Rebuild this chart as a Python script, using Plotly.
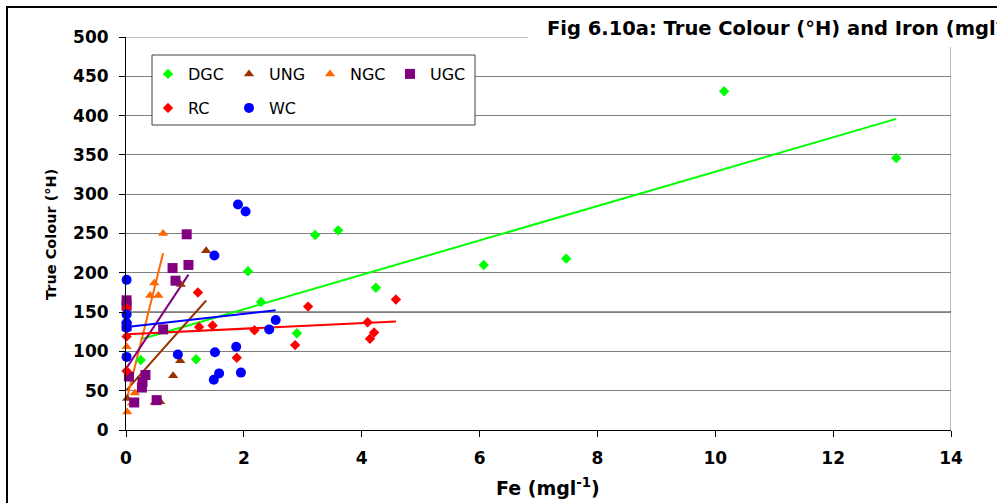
import numpy as np
import plotly.graph_objects as go

# Iron (Fe, mg/l) and true colour (degrees Hazen) per catchment group
dgc_fe = [0.25, 1.19, 2.07, 2.29, 2.90, 3.21, 3.60, 4.24, 6.07, 7.47, 10.15, 13.07]
dgc_col = [89, 90, 202, 163, 123, 248, 254, 181, 210, 218, 431, 346]

ung_fe = [0.01, 0.02, 0.49, 0.58, 0.80, 0.92, 0.93, 1.36]
ung_col = [150, 40, 35, 36, 69, 88, 185, 228]

ngc_fe = [0.01, 0.02, 0.10, 0.15, 0.41, 0.48, 0.55, 0.63]
ngc_col = [106, 23, 34, 47, 171, 187, 171, 250]

ugc_fe = [0.01, 0.01, 0.01, 0.05, 0.14, 0.27, 0.28, 0.33, 0.52, 0.63, 0.79, 0.84, 1.03, 1.06]
ugc_col = [165, 158, 132, 68, 35, 54, 61, 70, 38, 128, 206, 190, 249, 210]

rc_fe = [0.01, 0.01, 0.01, 1.22, 1.24, 1.47, 1.88, 2.18, 2.87, 3.09, 4.10, 4.14, 4.21, 4.58]
rc_col = [155, 119, 75, 175, 131, 133, 92, 127, 108, 157, 137, 116, 124, 166]

wc_fe = [0.01, 0.01, 0.01, 0.01, 0.01, 0.88, 1.49, 1.50, 1.51, 1.58, 1.87, 1.90, 1.95, 2.03, 2.43, 2.54]
wc_col = [191, 147, 136, 130, 93, 96, 64, 222, 99, 72, 106, 287, 73, 278, 128, 140]

series = [
    ("DGC", dgc_fe, dgc_col, "#00FF00", "diamond", 8),
    ("UNG", ung_fe, ung_col, "#993300", "triangle-up", 9),
    ("NGC", ngc_fe, ngc_col, "#FF6600", "triangle-up", 9),
    ("UGC", ugc_fe, ugc_col, "#800080", "square", 10),
    ("RC", rc_fe, rc_col, "#FF0000", "diamond", 8),
    ("WC", wc_fe, wc_col, "#0000FF", "circle", 10),
]

x_ticks = list(range(0, 15, 2))
y_ticks = list(range(0, 501, 50))

# plot area in pixels (997 x 503 page)
W, H = 997, 503
L, R, T, B = 126, 951, 37, 430

FONT = "DejaVu Sans, Verdana, sans-serif"


def px(x):
    return (x - L) / (R - L)


def py(y):
    return (B - y) / (B - T)


fig = go.Figure()

# least-squares trend line for each group, over its own Fe range
for name, fe, col, color, sym, size in series:
    fe_a = np.array(fe, dtype=float)
    col_a = np.array(col, dtype=float)
    slope, icpt = np.polyfit(fe_a, col_a, 1)
    xs = np.array([fe_a.min(), fe_a.max()])
    fig.add_trace(go.Scatter(
        x=xs, y=icpt + slope * xs, mode="lines",
        line=dict(color=color, width=2), showlegend=False,
        hoverinfo="skip", cliponaxis=False,
    ))

legend_pos = {
    "DGC": (168, 74), "UNG": (249, 74), "NGC": (330, 74), "UGC": (410, 74),
    "RC": (168, 108), "WC": (249, 108),
}

legend_layouts = {}
for i, (name, fe, col, color, sym, size) in enumerate(series):
    lname = "legend" if i == 0 else f"legend{i + 1}"
    fig.add_trace(go.Scatter(
        x=fe, y=col, mode="markers", name=name,
        marker=dict(color=color, symbol=sym, size=size, line=dict(width=0)),
        cliponaxis=False, legend=lname,
    ))
    lx, ly = legend_pos[name]
    legend_layouts[lname] = dict(
        x=px(lx - 20), y=py(ly), xanchor="left", yanchor="middle",
        bgcolor="rgba(0,0,0,0)", borderwidth=0,
        font=dict(family=FONT, size=16, color="black"),
        itemsizing="trace", tracegroupgap=0,
    )

shapes = [
    # outer chart frame
    dict(type="rect", xref="paper", yref="paper",
         x0=px(7), x1=px(1040), y0=py(540), y1=py(7),
         line=dict(color="black", width=2), fillcolor="rgba(0,0,0,0)", layer="above"),
    # right border of plot area
    dict(type="line", xref="x", yref="y", x0=14, x1=14, y0=0, y1=500,
         line=dict(color="#808080", width=1), layer="below"),
    # top border of plot area
    dict(type="line", xref="x", yref="y", x0=0, x1=14, y0=500, y1=500,
         line=dict(color="#808080", width=1), layer="below"),
    # darker gridline
    dict(type="line", xref="x", yref="y", x0=0, x1=14, y0=150, y1=150,
         line=dict(color="black", width=1), layer="below"),
    # legend box
    dict(type="rect", xref="paper", yref="paper",
         x0=px(152), x1=px(475), y0=py(125), y1=py(55),
         line=dict(color="#404040", width=1), fillcolor="white", layer="above"),
    # title box
    dict(type="rect", xref="paper", yref="paper",
         x0=px(528), x1=px(1040), y0=py(47), y1=py(9),
         line=dict(width=0), fillcolor="white", layer="above"),
]

annotations = [
    dict(text="<b>Fig 6.10a: True Colour (°H) and Iron (mgl<sup>-1</sup>)</b>",
         xref="paper", yref="paper", x=px(545), y=py(27),
         xanchor="left", yanchor="middle", showarrow=False,
         font=dict(family=FONT, size=19.5, color="black")),
    dict(text="<b>Fe (mgl<sup>-1</sup>)</b>",
         xref="paper", yref="paper", x=px(548), y=py(487),
         xanchor="center", yanchor="middle", showarrow=False,
         font=dict(family=FONT, size=19, color="black")),
    dict(text="<b>True Colour (°H)</b>", textangle=-90,
         xref="paper", yref="paper", x=px(51), y=py(235),
         xanchor="center", yanchor="middle", showarrow=False,
         font=dict(family=FONT, size=14.5, color="black")),
]

tick_font = dict(family=FONT, size=17, color="black")

fig.update_layout(
    width=W, height=H,
    margin=dict(l=L, r=W - R, t=T, b=H - B, pad=0),
    paper_bgcolor="white", plot_bgcolor="white",
    shapes=shapes, annotations=annotations,
    xaxis=dict(range=[0, 14], tickvals=x_ticks,
               ticktext=[f"<b>{v}</b>" for v in x_ticks],
               showgrid=False, zeroline=False,
               showline=True, linecolor="black", linewidth=1,
               ticks="outside", ticklen=6, tickcolor="black", tickfont=tick_font,
               ticklabelstandoff=7),
    yaxis=dict(range=[0, 500], tickvals=y_ticks,
               ticktext=[f"<b>{v}</b>" for v in y_ticks],
               showgrid=True, gridcolor="#808080", gridwidth=1, zeroline=False,
               showline=True, linecolor="black", linewidth=1,
               ticks="outside", ticklen=6, tickcolor="black", tickfont=tick_font,
               ticklabelstandoff=7),
    **legend_layouts,
)

fig.write_html("out.html")
